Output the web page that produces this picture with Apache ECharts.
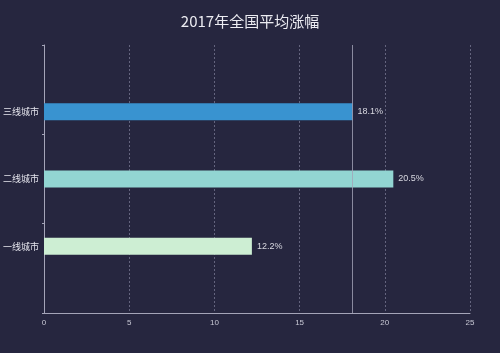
<!DOCTYPE html>
<html>
<head>
<meta charset="utf-8">
<script src="https://cdn.jsdelivr.net/npm/echarts@6/dist/echarts.min.js"></script>
<style>
  html, body { margin: 0; padding: 0; background: #26263f; }
  #chart { width: 500px; height: 353px; }
</style>
</head>
<body>
<div id="chart"></div>
<script>
// 数据
const cities = ['一线城市', '二线城市', '三线城市']
const tier1 = [12.2, '-', '-']
const tier2 = ['-', 20.5, '-']
const tier3 = ['-', '-', 18.1]
const xTicks = [0, 5, 10, 15, 20, 25]
const refLine = 18.1

const labelStyle = {
  show: true,
  position: 'right',
  fontSize: 9,
  color: '#d8d8e0',
  formatter: (p) => p.value + '%',
}

const catText = { color: '#e4e4ec', fontSize: 9, fontFamily: 'Noto Sans CJK SC' }

const chart = echarts.init(document.getElementById('chart'))
chart.setOption({
  backgroundColor: '#26263f',
  animation: false,
  title: {
    text: '2017年全国平均涨幅',
    left: 'center',
    top: 9,
    textStyle: {
      color: '#ececf2',
      fontSize: 15,
      fontWeight: 'normal',
      fontFamily: 'Noto Sans CJK SC',
    },
  },
  grid: { left: 42, right: 30, top: 45, bottom: 40 },
  xAxis: {
    type: 'value',
    min: xTicks[0],
    max: xTicks[xTicks.length - 1],
    interval: 5,
    axisLine: { show: true, lineStyle: { color: '#a4a4b8' } },
    axisTick: { show: false },
    axisLabel: { color: '#c8c8d4', fontSize: 8, margin: 6 },
    splitLine: { show: true, lineStyle: { color: '#64647e', type: [2, 2] } },
  },
  yAxis: {
    type: 'category',
    data: cities,
    axisLine: { show: true, lineStyle: { color: '#a4a4b8' } },
    axisTick: { show: true, length: 2, lineStyle: { color: '#a4a4b8' } },
    axisLabel: {
      margin: 5,
      ...catText,
      // 标签对齐到各自柱子的位置
      formatter: (v, i) => (i === 0 ? '{up|' + v + '}' : i === 2 ? '{down|' + v + '}' : '{mid|' + v + '}'),
      rich: {
        up: { ...catText, padding: [0, 0, 44, 0] },
        mid: { ...catText },
        down: { ...catText, padding: [44, 0, 0, 0] },
      },
    },
  },
  series: [
    {
      type: 'bar',
      data: tier1,
      barWidth: 17,
      barGap: '30%',
      itemStyle: { color: '#cdeed3' },
      label: labelStyle,
      markLine: {
        silent: true,
        symbol: 'none',
        label: { show: false },
        lineStyle: { color: '#a4a4b8', type: 'solid', width: 1, opacity: 0.8 },
        data: [{ xAxis: refLine }],
      },
    },
    {
      type: 'bar',
      data: tier2,
      barWidth: 17,
      barGap: '30%',
      itemStyle: { color: '#92d5d2' },
      label: labelStyle,
    },
    {
      type: 'bar',
      data: tier3,
      barWidth: 17,
      barGap: '30%',
      itemStyle: { color: '#3993d0' },
      label: labelStyle,
    },
  ],
})
</script>
</body>
</html>
